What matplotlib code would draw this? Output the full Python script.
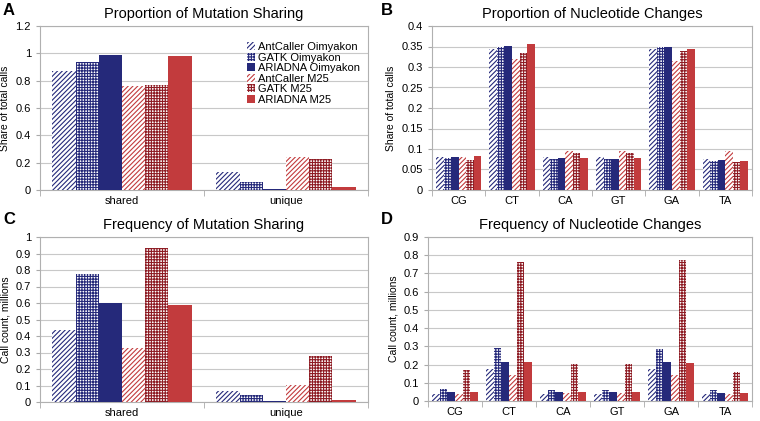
import numpy as np
import matplotlib.pyplot as plt

# Series names and categories
series = ["AntCaller Oimyakon", "GATK Oimyakon", "ARIADNA Oimyakon",
          "AntCaller M25", "GATK M25", "ARIADNA M25"]
sharing_cats = ["shared", "unique"]
nuc_cats = ["CG", "CT", "CA", "GT", "GA", "TA"]

# A: proportion of mutation sharing (rows = series, cols = categories)
prop_sharing = [
    [0.87, 0.13],
    [0.94, 0.055],
    [0.99, 0.01],
    [0.76, 0.24],
    [0.77, 0.23],
    [0.98, 0.02],
]
# B: proportion of nucleotide changes
prop_nuc = [
    [0.080, 0.345, 0.080, 0.080, 0.343, 0.075],
    [0.078, 0.350, 0.076, 0.075, 0.348, 0.070],
    [0.080, 0.352, 0.078, 0.076, 0.348, 0.072],
    [0.080, 0.320, 0.095, 0.096, 0.315, 0.095],
    [0.073, 0.335, 0.090, 0.090, 0.340, 0.068],
    [0.082, 0.355, 0.079, 0.077, 0.343, 0.070],
]
# C: frequency of mutation sharing (millions)
freq_sharing = [
    [0.435, 0.065],
    [0.775, 0.045],
    [0.600, 0.008],
    [0.330, 0.105],
    [0.935, 0.280],
    [0.590, 0.013],
]
# D: frequency of nucleotide changes (millions)
freq_nuc = [
    [0.040, 0.175, 0.040, 0.040, 0.175, 0.040],
    [0.065, 0.290, 0.062, 0.062, 0.288, 0.058],
    [0.052, 0.215, 0.050, 0.048, 0.212, 0.045],
    [0.040, 0.140, 0.042, 0.042, 0.140, 0.040],
    [0.168, 0.765, 0.205, 0.202, 0.775, 0.158],
    [0.052, 0.215, 0.050, 0.048, 0.208, 0.043],
]

NAVY = "#25297a"
RED = "#c23b3d"
DARKRED = "#8e1c24"
colors = [NAVY, NAVY, NAVY, RED, DARKRED, RED]
hatches = ["///////", "++++++", None, "///////", "++++++", None]

plt.rcParams["font.family"] = "Liberation Sans"
plt.rcParams["hatch.linewidth"] = 0.8


def draw(ax, cats, data, ymax, ystep, title, ylabel, legend=False):
    n = len(series)
    x = np.arange(len(cats))
    w = 0.85 / n
    for i in range(n):
        pos = x - 0.425 + w * (i + 0.5)
        if hatches[i] is None:
            ax.bar(pos, data[i], w, color=colors[i], label=series[i], zorder=3)
        else:
            ax.bar(pos, data[i], w, facecolor="white", edgecolor=colors[i],
                   hatch=hatches[i], linewidth=0, label=series[i], zorder=3)
    ax.set_xlim(-0.5, len(cats) - 0.5)
    ax.set_ylim(0, ymax)
    ticks = np.round(np.arange(0, ymax + ystep / 2, ystep), 2)
    ax.set_yticks(ticks)
    ax.set_yticklabels([f"{v:g}" for v in ticks])
    ax.set_xticks(x)
    ax.set_xticklabels(cats)
    ax.set_xticks(np.arange(-0.5, len(cats)), minor=True)
    ax.tick_params(axis="x", which="major", length=0, labelsize=8, pad=4)
    ax.tick_params(axis="x", which="minor", length=4, color="#aaaaaa")
    ax.tick_params(axis="y", length=3, color="#aaaaaa", labelsize=8)
    ax.grid(axis="y", color="#c8c8c8", linewidth=0.8, zorder=0)
    for s in ax.spines.values():
        s.set_color("#b0b0b0")
        s.set_linewidth(0.8)
    ax.set_title(title, fontsize=10.5, pad=6)
    ax.set_ylabel(ylabel, fontsize=7.5)
    if legend:
        ax.legend(loc="upper right", bbox_to_anchor=(1.0, 0.95), frameon=False,
                  fontsize=8, handlelength=0.7, handleheight=0.7,
                  handletextpad=0.3, labelspacing=0.05, borderaxespad=0.3)


fig = plt.figure(figsize=(7.6, 4.21), dpi=100)
axA = fig.add_axes([40 / 760, 1 - 190 / 421, 328 / 760, 164 / 421])
axB = fig.add_axes([432 / 760, 1 - 190 / 421, 320 / 760, 164 / 421])
axC = fig.add_axes([40 / 760, 1 - 402 / 421, 328 / 760, 165 / 421])
axD = fig.add_axes([428 / 760, 1 - 401 / 421, 324 / 760, 164 / 421])

draw(axA, sharing_cats, prop_sharing, 1.2, 0.2,
     "Proportion of Mutation Sharing", "Share of total calls", legend=True)
draw(axB, nuc_cats, prop_nuc, 0.4, 0.05,
     "Proportion of Nucleotide Changes", "Share of total calls")
draw(axC, sharing_cats, freq_sharing, 1.0, 0.1,
     "Frequency of Mutation Sharing", "Call count, millions")
draw(axD, nuc_cats, freq_nuc, 0.9, 0.1,
     "Frequency of Nucleotide Changes", "Call count, millions")

# panel letters
for letter, (px, py) in zip("ABCD", [(3, 3), (381, 3), (3, 212), (381, 212)]):
    fig.text(px / 760, 1 - py / 421, letter, fontsize=12, fontweight="bold",
             ha="left", va="top")

fig.savefig("out.png", dpi=100)
